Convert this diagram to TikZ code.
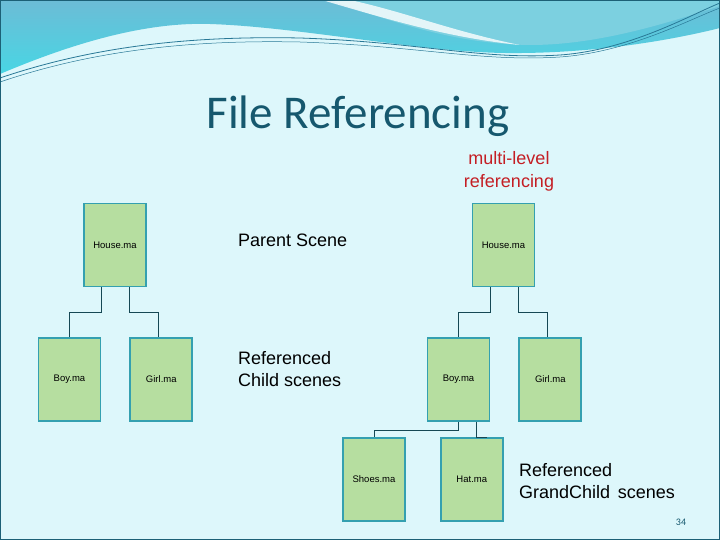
\documentclass[tikz,border=0pt]{standalone}
\usepackage{fontspec}
\setmainfont{Liberation Sans}
\newfontfamily\titlefont{Carlito}
\usepackage{xcolor}
\usepackage{tikz}
\usetikzlibrary{positioning,calc}
\definecolor{slidebg}{RGB}{221,247,251}
\definecolor{wavedark}{RGB}{108,188,214}
\definecolor{wavecyan}{RGB}{72,214,228}
\definecolor{waveturq}{RGB}{124,208,224}
\definecolor{waveline}{RGB}{40,120,150}
\definecolor{slideedge}{RGB}{28,96,118}
\definecolor{titleteal}{RGB}{22,88,110}
\definecolor{refred}{RGB}{196,30,36}
\definecolor{boxgreen}{RGB}{182,222,160}
\definecolor{boxedge}{RGB}{52,160,176}
\definecolor{linkteal}{RGB}{22,72,84}
\tikzset{
  scenebox/.style={rectangle,draw=boxedge,line width=1.8pt,fill=boxgreen,
              minimum width=62pt,minimum height=83pt,inner sep=0pt,
              align=center,font=\fontsize{9.5}{11}\selectfont},
  note/.style={align=left,anchor=west,inner sep=0pt,
              font=\fontsize{18}{22}\selectfont},
  link/.style={draw=linkteal,line width=0.9pt},
}

\begin{document}
\begin{tikzpicture}[x=1pt,y=-1pt]
  \useasboundingbox (0,0) rectangle (720,540);
  % slide background and waves
  \fill[slidebg] (0,0) rectangle (720,540);
  \shade[top color=wavedark,bottom color=wavecyan]
    (0,0) -- (0,74) .. controls (80,40) and (150,22) .. (210,24)
    .. controls (300,27) and (420,52) .. (505,53)
    .. controls (600,54) and (680,38) .. (720,28) -- (720,0) -- cycle;
  \fill[waveturq] (330,0) .. controls (400,25) and (460,44) .. (530,45)
    .. controls (600,45) and (670,22) .. (720,6) -- (720,0) -- cycle;
  \fill[white,opacity=0.8] (322,0) .. controls (390,20) and (450,38) .. (520,45)
    .. controls (455,32) and (405,12) .. (350,0) -- cycle;
  \draw[waveline,line width=0.8pt] (0,78) .. controls (100,44) and (200,36) .. (300,38)
    .. controls (420,42) and (480,60) .. (560,55) .. controls (630,50) and (690,15) .. (720,3);
  \draw[waveline,line width=0.5pt] (0,82) .. controls (100,48) and (200,40) .. (300,42)
    .. controls (420,46) and (480,62) .. (560,57) .. controls (630,52) and (690,19) .. (720,8);
  \draw[slideedge,line width=1.5pt] (0,0) rectangle (720,540);

  % title and notes
  \node[font=\titlefont\fontsize{47}{56}\selectfont,text=titleteal] (title) at (358,116) {File Referencing};
  \node[align=center,text=refred,font=\fontsize{18}{23}\selectfont] (multi) at (509,171) {multi-level\\referencing};
  \node[note] (parent) at (238,240) {Parent Scene};
  \node[note] (child) at (238,369) {Referenced\\Child scenes};
  \node[note] (grand) at (519,481) {Referenced\\GrandChild\hspace{0.15em} scenes};
  \node[text=titleteal,font=\titlefont\fontsize{10}{12}\selectfont] (pageno) at (681,522) {34};

  % left tree
  \node[scenebox] (lhouse) at (115,245) {House.ma};
  \node[scenebox] (lboy) at (69.5,379.5) {Boy.ma};
  \node[scenebox,right=28pt of lboy] (lgirl) {Girl.ma};
  \draw[link] (lboy.east|-lhouse.south) -- ++(0,25) -| (lboy.north);
  \draw[link] (lgirl.west|-lhouse.south) -- ++(0,25) -| ([xshift=-3pt]lgirl.north);

  % right tree
  \node[scenebox] (rhouse) at (503.5,245) {House.ma};
  \node[scenebox] (rboy) at (458.5,379.5) {Boy.ma};
  \node[scenebox,right=28pt of rboy] (rgirl) {Girl.ma};
  \node[scenebox] (rshoes) at (374,479.5) {Shoes.ma};
  \node[scenebox,right=34pt of rshoes] (rhat) {Hat.ma};
  \draw[link] (rboy.east|-rhouse.south) -- ++(0,25) -| (rboy.north);
  \draw[link] (rgirl.west|-rhouse.south) -- ++(0,25) -| ([xshift=-3pt]rgirl.north);
  \draw[link] (rboy.south) -- ++(0,9) -| (rshoes.north);
  \draw[link] ([xshift=18pt]rboy.south) -- ([xshift=18pt]rboy.south|-rhat.north) -- ([xshift=28pt]rboy.south|-rhat.north);
\end{tikzpicture}
\end{document}
